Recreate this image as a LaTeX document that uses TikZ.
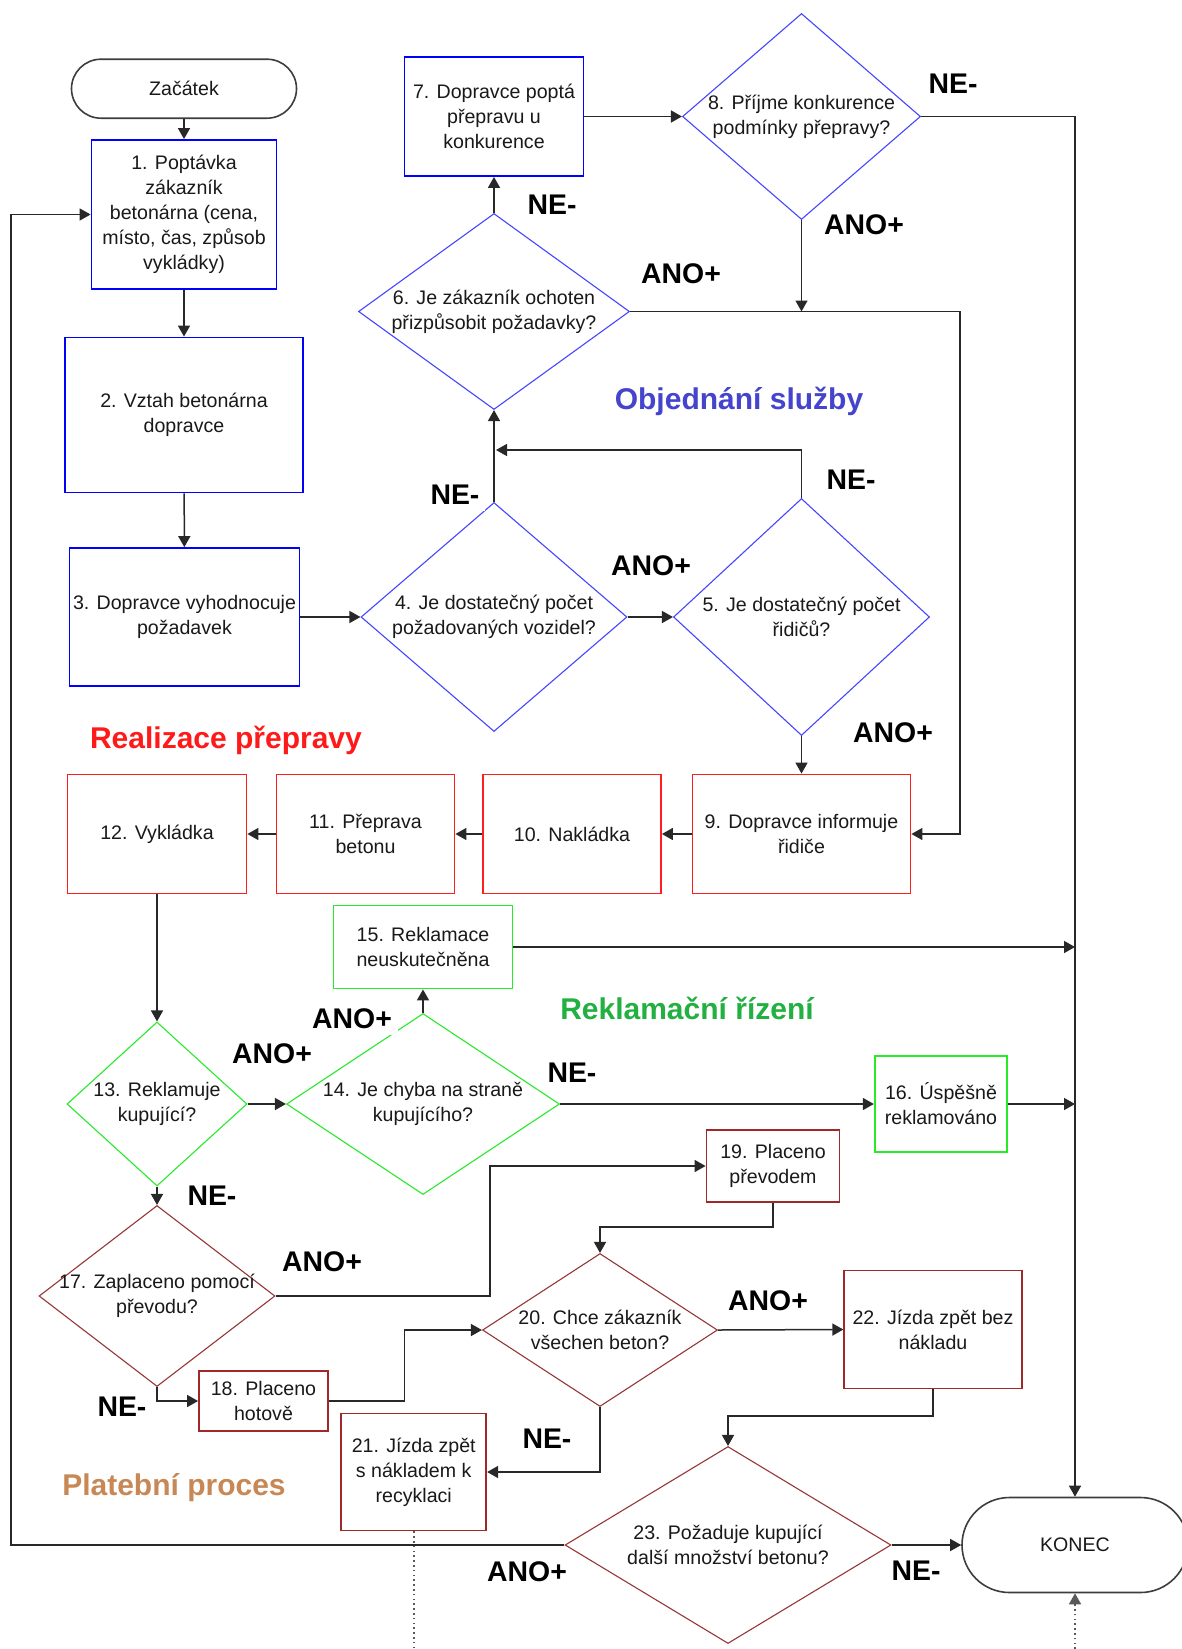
\documentclass[tikz,border=0pt]{standalone}
\usepackage{fontspec}
\setmainfont{Liberation Sans}
\usetikzlibrary{shapes.geometric, arrows.meta}

\definecolor{bl}{RGB}{0,0,255}
\definecolor{bld}{RGB}{70,70,255}
\definecolor{rd}{RGB}{255,30,30}
\definecolor{gr}{RGB}{40,235,40}
\definecolor{br}{RGB}{160,40,40}
\definecolor{brd}{RGB}{150,55,55}
\definecolor{ttlblue}{RGB}{68,68,204}
\definecolor{ttlred}{RGB}{255,26,26}
\definecolor{ttlgreen}{RGB}{34,176,64}
\definecolor{ttlbrown}{RGB}{200,136,85}
\definecolor{ln}{RGB}{40,40,40}

\tikzset{
  sz/.style 2 args={minimum width=#1*0.5pt, minimum height=#2*0.5pt},
  tx/.style={font=\fontsize{9.8}{12.5}\selectfont, align=center, text=black!90, inner sep=0pt},
  boxb/.style={rectangle, draw=#1, line width=0.9pt, inner sep=0pt},
  dia/.style={diamond, draw=#1, line width=0.55pt, inner sep=0pt},
  term/.style={rectangle, draw=ln!90, line width=0.8pt, rounded corners=#1, inner sep=0pt},
  conn/.style={draw=ln, line width=0.75pt},
  arr/.style={conn, -{Triangle[length=5.5pt,width=6pt]}},
  dots/.style={draw=black!65, line width=0.8pt, dash pattern=on 0.8pt off 1.6pt},
  yn/.style={font=\fontsize{14.2}{16}\selectfont\bfseries, inner sep=0pt},
  ttl/.style={font=\fontsize{15}{18}\selectfont\bfseries, text=#1, inner sep=0pt},
}

\begin{document}
\begin{tikzpicture}[x=0.5pt, y=-0.5pt]
\useasboundingbox (0,0) rectangle (1182,1649);
\fill[white] (0,0) rectangle (1182,1649);

% --- ordering of the service (blue) ---
\node[term=14.75pt, sz={225}{59}, tx] (z) at (184,88.7) {Začátek};
\node[boxb=bl, sz={185}{149}, tx] (n1) at (184,214.5) {1. Poptávka\\zákazník\\betonárna (cena,\\místo, čas, způsob\\vykládky)};
\node[boxb=bl, sz={238}{155}, tx] (n2) at (184,415) {2. Vztah betonárna\\dopravce};
\node[boxb=bl, sz={230}{138}, tx] (n3) at (184.5,617) {3. Dopravce vyhodnocuje\\požadavek};
\node[dia=bld, sz={266}{229}] (d4) at (494,617) {};
\node[tx] (t4) at (d4.center) {4. Je dostatečný počet\\požadovaných vozidel?};
\node[dia=bld, sz={256}{237}] (d5) at (801.5,617) {};
\node[tx] (t5) at (d5.center) {5. Je dostatečný počet\\řidičů?};
\node[dia=bld, sz={271}{196}] (d6) at (494,311.5) {};
\node[tx] (t6) at (d6.center) {6. Je zákazník ochoten\\přizpůsobit požadavky?};
\node[boxb=bl, sz={179}{119}, tx] (n7) at (494,116.5) {7. Dopravce poptá\\přepravu u\\konkurence};
\node[dia=bld, sz={238}{206}] (d8) at (801.5,116.5) {};
\node[tx] (t8) at (d8.center) {8. Příjme konkurence\\podmínky přepravy?};

% --- transport (red) ---
\node[boxb=rd, sz={218}{119}, tx] (n9) at (801.5,834) {9. Dopravce informuje\\řidiče};
\node[boxb=rd, sz={178}{119}, tx] (n10) at (572,834) {10. Nakládka};
\node[boxb=rd, sz={178}{119}, tx] (n11) at (365.5,834) {11. Přeprava\\betonu};
\node[boxb=rd, sz={179}{119}, tx] (n12) at (157,834) {12. Vykládka};

% --- complaints (green) ---
\node[dia=gr, sz={180}{164}] (d13) at (157,1104) {};
\node[tx] (t13) at (d13.center) {13. Reklamuje\\kupující?};
\node[dia=gr, sz={273}{181}] (d14) at (423,1104) {};
\node[tx] (t14) at (d14.center) {14. Je chyba na straně\\kupujícího?};
\node[boxb=gr, sz={179}{83}, tx] (n15) at (423,947) {15. Reklamace\\neuskutečněna};
\node[boxb=gr, sz={132.5}{96}, tx] (n16) at (941,1104) {16. Úspěšně\\reklamováno};

% --- payment (brown) ---
\node[dia=brd, sz={236}{181}] (d17) at (157,1296) {};
\node[tx] (t17) at (d17.center) {17. Zaplaceno pomocí\\převodu?};
\node[boxb=br, sz={129}{60}, tx] (n18) at (263.5,1401) {18. Placeno\\hotově};
\node[boxb=br, sz={133}{72}, tx] (n19) at (773,1166) {19. Placeno\\převodem};
\node[dia=brd, sz={235}{153}] (d20) at (600,1330) {};
\node[tx] (t20) at (d20.center) {20. Chce zákazník\\všechen beton?};
\node[boxb=br, sz={145}{117}, tx] (n21) at (413.7,1472) {21. Jízda zpět\\s nákladem k\\recyklaci};
\node[boxb=br, sz={177.5}{118}, tx] (n22) at (933,1329.5) {22. Jízda zpět bez\\nákladu};
\node[dia=brd, sz={326}{197}] (d23) at (728,1545) {};
\node[tx] (t23) at (d23.center) {23. Požaduje kupující\\další množství betonu?};
\node[term=23.75pt, sz={226}{95}, tx] (konec) at (1075,1545) {KONEC};

% --- auxiliary corner points of the connectors ---
\coordinate (j45) at (496,450);
\coordinate (j8) at (801.5,311.5);
\coordinate (r6) at (960,311.5);
\coordinate (k15) at (1075,947);
\coordinate (k16) at (1075,1104);
\coordinate (r17) at (490,1296);
\coordinate (b19) at (773,1227);
\coordinate (r18) at (404.5,1401);
\coordinate (b22) at (933,1416);
\coordinate (l23) at (11,1545);
\coordinate (e21) at (413.7,1649);
\coordinate (ek) at (1075,1649);

% --- connectors ---
\draw[arr] (z) -- (n1);
\draw[arr] (n1) -- (n2);
\draw[arr] (n2) -- (n3);
\draw[arr] (n3.east) -- (d4.west);
\draw[arr] (d4.east) -- (d5.west);
\draw[arr] (d4.north) -- (d6.south);
\draw[arr] (d5.north) |- (j45);
\draw[arr] (d6.north) -- (n7.south);
\draw[arr] (n7.east) -- (d8.west);
\draw[arr] (d8.east) -| (konec.north);
\draw[arr] (d8.south) -- (j8);
\draw[arr] (d6.east) -- (r6) |- (n9.east);
\draw[arr] (d5.south) -- (n9.north);
\draw[arr] (n9.west) -- (n10.east);
\draw[arr] (n10.west) -- (n11.east);
\draw[arr] (n11.west) -- (n12.east);
\draw[arr] (n12.south) -- (d13.north);
\draw[arr] (d13.east) -- (d14.west);
\draw[arr] (d14.north) -- (n15.south);
\draw[arr] (n15.east) -- (k15);
\draw[arr] (d14.east) -- (n16.west);
\draw[arr] (n16.east) -- (k16);
\draw[arr] (d13.south) -- (d17.north);
\draw[arr] (d17.east) -- (r17) |- (n19.west);
\draw[arr] (n19.south) -- (b19) -| (d20.north);
\draw[arr] (d17.south) |- (n18.west);
\draw[arr] (n18.east) -- (r18) |- (d20.west);
\draw[arr] (d20.east) -- (n22.west);
\draw[arr] (d20.south) |- (n21.east);
\draw[arr] (n22.south) -- (b22) -| (d23.north);
\draw[arr] (d23.east) -- (konec.west);
\draw[arr] (d23.west) -- (l23) |- (n1.west);
\draw[dots] (n21.south) -- (e21);
\draw[dots, -{Triangle[length=5.5pt,width=6pt]}] (ek) -- (konec.south);

% --- answer labels ---
\node[yn] (l8n) at (953,84) {NE-};
\node[yn] (l8a) at (864,225) {ANO+};
\node[yn] (l6n) at (552,205) {NE-};
\node[yn] (l6a) at (681,274) {ANO+};
\node[yn, fill=white, inner sep=3pt] (l4n) at (455,495) {NE-};
\node[yn] (l5n) at (851,480) {NE-};
\node[yn] (l4a) at (651,566) {ANO+};
\node[yn] (l5a) at (893,733) {ANO+};
\node[yn, fill=white, inner sep=3pt] (l14a) at (352,1019) {ANO+};
\node[yn] (l13a) at (272,1054) {ANO+};
\node[yn] (l14n) at (572,1073) {NE-};
\node[yn] (l13n) at (212,1196) {NE-};
\node[yn] (l17a) at (322,1262) {ANO+};
\node[yn] (l20a) at (768,1301) {ANO+};
\node[yn] (l17n) at (122,1407) {NE-};
\node[yn] (l20n) at (547,1439) {NE-};
\node[yn] (l23a) at (527,1572) {ANO+};
\node[yn] (l23n) at (916,1571) {NE-};

% --- section titles ---
\node[ttl=ttlblue] (s1) at (739,401) {Objednání služby};
\node[ttl=ttlred] (s2) at (226,740) {Realizace přepravy};
\node[ttl=ttlgreen] (s3) at (687,1008) {Reklamační řízení};
\node[ttl=ttlbrown] (s4) at (174,1488) {Platební proces};
\end{tikzpicture}
\end{document}
